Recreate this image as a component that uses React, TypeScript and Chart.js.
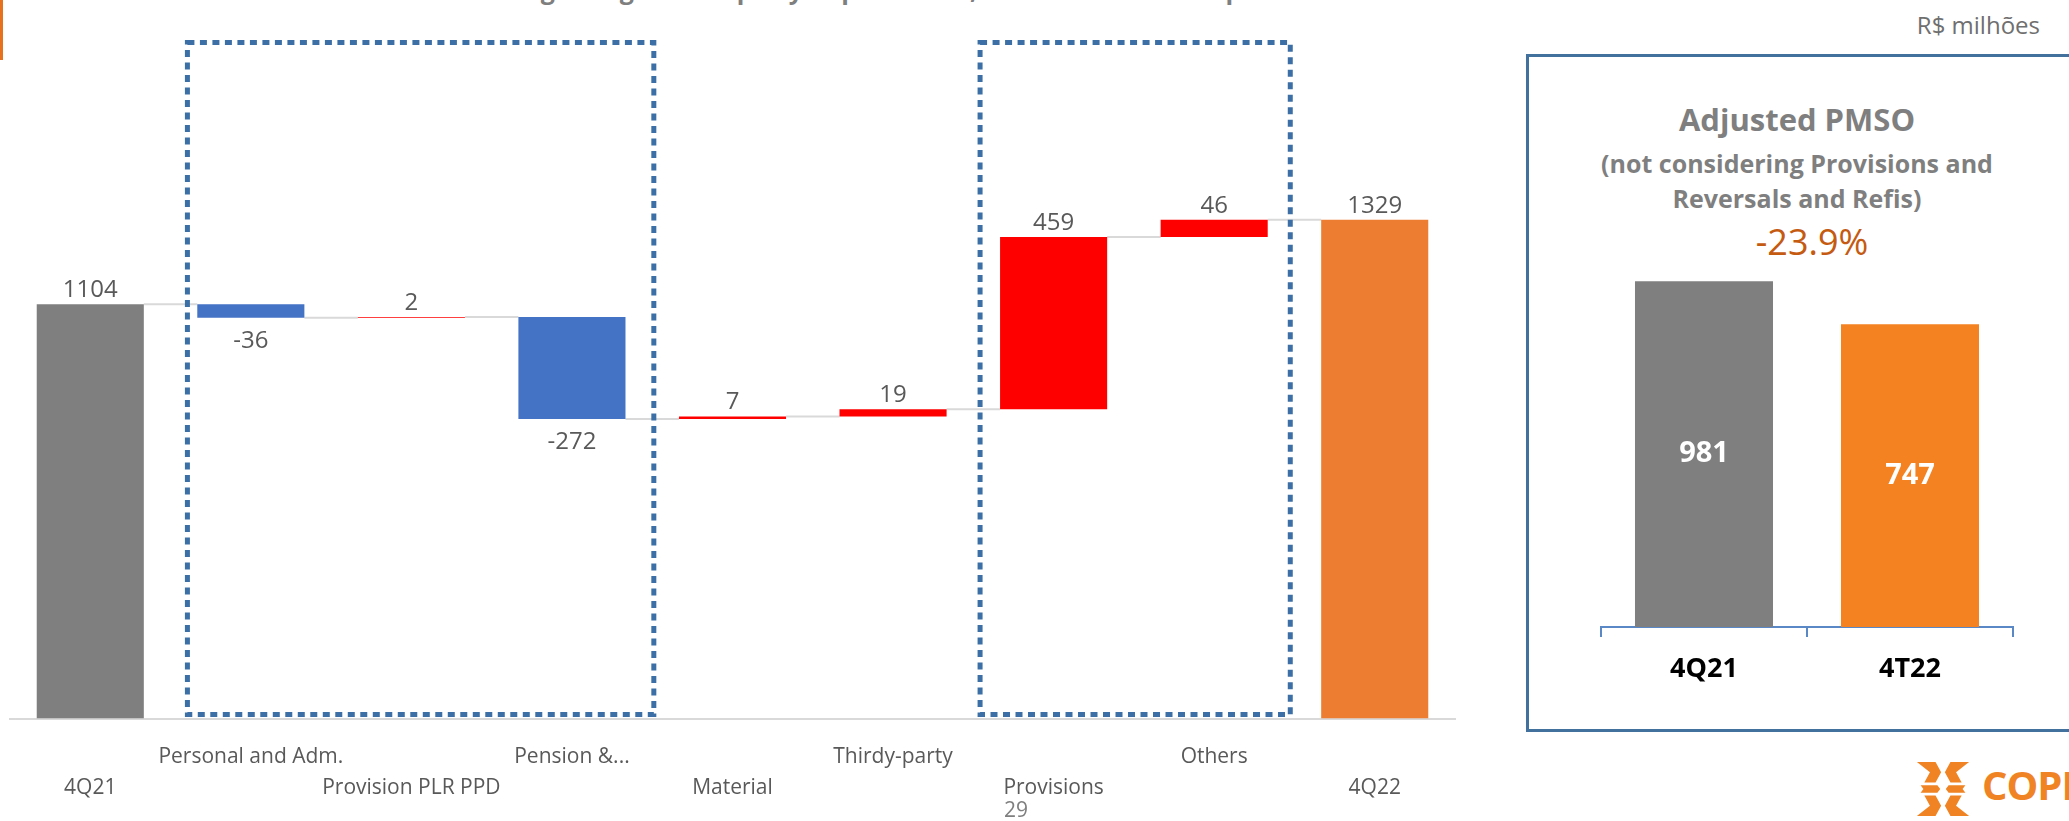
import React, { useEffect, useRef } from "react";
import { Chart, registerables } from "chart.js";

Chart.register(...registerables);

// ---------- data ----------
const categories = [
  "4Q21",
  "Personal and Adm.",
  "Provision PLR PPD",
  "Pension &...",
  "Material",
  "Thirdy-party",
  "Provisions",
  "Others",
  "4Q22",
];
const changes = [1104, -36, 2, -272, 7, 19, 459, 46, 1329];
const isTotal = [true, false, false, false, false, false, false, false, true];
const mainMax = 1800;

const panelCategories = ["4Q21", "4T22"];
const panelValues = [981, 747];
const panelChange = "-23.9%";
const panelMin = -900;
const panelMax = 1100;

const FONT = "'Open Sans', 'DejaVu Sans', sans-serif";

function waterfallRanges(): number[][] {
  let run = 0;
  return changes.map((v, i) => {
    if (isTotal[i]) {
      run = v;
      return [0, v];
    }
    const start = run;
    run += v;
    return [start, run];
  });
}

export default function App() {
  const mainRef = useRef<HTMLCanvasElement | null>(null);
  const panelRef = useRef<HTMLCanvasElement | null>(null);

  useEffect(() => {
    const ranges = waterfallRanges();
    const colors = changes.map((v, i) =>
      isTotal[i] ? (i === 0 ? "#7f7f7f" : "#ed7d31") : v < 0 ? "#4472c4" : "#ff0000"
    );
    const tickLabels = categories.map((c, i) => (i % 2 === 0 ? ["", c] : [c]));

    const connectors = {
      id: "connectors",
      beforeDatasetsDraw(chart: any) {
        const meta = chart.getDatasetMeta(0);
        const y = chart.scales.y;
        const ctx = chart.ctx;
        ctx.save();
        ctx.strokeStyle = "#d9d9d9";
        ctx.lineWidth = 2;
        for (let i = 0; i < meta.data.length - 1; i++) {
          const a = meta.data[i];
          const b = meta.data[i + 1];
          const py = y.getPixelForValue(ranges[i][1]);
          ctx.beginPath();
          ctx.moveTo(a.x + a.width / 2, py);
          ctx.lineTo(b.x - b.width / 2, py);
          ctx.stroke();
        }
        ctx.restore();
      },
    };

    const valueLabels = {
      id: "valueLabels",
      afterDatasetsDraw(chart: any) {
        const meta = chart.getDatasetMeta(0);
        const ctx = chart.ctx;
        ctx.save();
        ctx.font = `24px ${FONT}`;
        ctx.fillStyle = "#595959";
        ctx.textAlign = "center";
        ctx.textBaseline = "alphabetic";
        meta.data.forEach((bar: any, i: number) => {
          const top = Math.min(bar.y, bar.base);
          const bottom = Math.max(bar.y, bar.base);
          const v = changes[i];
          if (v >= 0) ctx.fillText(String(v), bar.x, top - 7);
          else ctx.fillText(String(v), bar.x, bottom + 30);
        });
        ctx.restore();
      },
    };

    const groups = [
      { from: 1, to: 3, l: 0.395, r: 0.51 },
      { from: 6, to: 7, l: 0.458, r: 0.474 },
    ];
    const dottedBoxes = {
      id: "dottedBoxes",
      afterDatasetsDraw(chart: any) {
        const xs = chart.scales.x;
        const area = chart.chartArea;
        const step = xs.getPixelForValue(1) - xs.getPixelForValue(0);
        const ctx = chart.ctx;
        ctx.save();
        ctx.strokeStyle = "#3c6fa5";
        ctx.lineWidth = 5;
        ctx.setLineDash([7, 5.5]);
        groups.forEach((g) => {
          const left = xs.getPixelForValue(g.from) - g.l * step;
          const right = xs.getPixelForValue(g.to) + g.r * step;
          const top = area.top - 0.5;
          const bottom = area.bottom - 4;
          ctx.strokeRect(left, top, right - left, bottom - top);
        });
        ctx.restore();
      },
    };

    const main = new Chart(mainRef.current as HTMLCanvasElement, {
      type: "bar",
      data: {
        labels: tickLabels as any,
        datasets: [
          {
            data: ranges as any,
            backgroundColor: colors,
            borderWidth: 0,
            barPercentage: 0.667,
            categoryPercentage: 1,
          },
        ],
      },
      options: {
        animation: false,
        responsive: false,
        maintainAspectRatio: false,
        layout: { padding: { left: 10, right: 25, top: 43, bottom: 3.3 } },
        plugins: {
          legend: { display: false },
          tooltip: { enabled: false },
          title: { display: false },
        },
        scales: {
          x: {
            grid: { display: false, drawTicks: false },
            border: { display: true, color: "#d9d9d9", width: 2 },
            ticks: {
              autoSkip: false,
              maxRotation: 0,
              minRotation: 0,
              color: "#595959",
              padding: 23,
              font: { family: FONT, size: 21, lineHeight: 1.48 },
            },
          },
          y: { display: false, min: 0, max: mainMax },
        },
      },
      plugins: [connectors, valueLabels, dottedBoxes],
    });

    const panelLabels = {
      id: "panelLabels",
      afterDatasetsDraw(chart: any) {
        const meta = chart.getDatasetMeta(0);
        const ctx = chart.ctx;
        ctx.save();
        ctx.font = `bold 29px ${FONT}`;
        ctx.fillStyle = "#ffffff";
        ctx.textAlign = "center";
        ctx.textBaseline = "middle";
        meta.data.forEach((bar: any, i: number) => {
          ctx.fillText(String(panelValues[i]), bar.x, (bar.y + bar.base) / 2);
        });
        ctx.restore();
      },
    };

    const panel = new Chart(panelRef.current as HTMLCanvasElement, {
      type: "bar",
      data: {
        labels: panelCategories,
        datasets: [
          {
            data: panelValues,
            base: panelMin,
            backgroundColor: ["#7f7f7f", "#f58220"],
            borderWidth: 0,
            barPercentage: 0.67,
            categoryPercentage: 1,
          } as any,
        ],
      },
      options: {
        animation: false,
        responsive: false,
        maintainAspectRatio: false,
        layout: { padding: { left: 61, right: 27, top: 19.4, bottom: 9 } },
        plugins: {
          legend: { display: false },
          tooltip: { enabled: false },
          title: { display: false },
        },
        scales: {
          x: {
            grid: {
              display: true,
              drawOnChartArea: false,
              drawTicks: true,
              tickLength: 10,
              color: "#5a87c5",
              lineWidth: 2,
              offset: true,
            },
            border: { display: true, color: "#5a87c5", width: 2 },
            ticks: {
              color: "#000000",
              padding: 15.8,
              font: { family: FONT, size: 27, weight: "bold", lineHeight: 1.2 },
            },
          },
          y: { display: false, min: panelMin, max: panelMax },
        },
      },
      plugins: [panelLabels],
    });

    return () => {
      main.destroy();
      panel.destroy();
    };
  }, []);

  const textBase: React.CSSProperties = {
    position: "absolute",
    fontFamily: FONT,
    lineHeight: 1,
    whiteSpace: "nowrap",
    margin: 0,
  };

  return (
    <div
      style={{
        position: "fixed",
        left: 0,
        top: 0,
        width: 2069,
        height: 821,
        overflow: "hidden",
        background: "#ffffff",
      }}
    >
      {/* orange accent */}
      <div style={{ position: "absolute", left: 0, top: 0, width: 3, height: 60, background: "#e8711e" }} />
      {/* clipped title */}
      <div
        style={{
          ...textBase,
          left: 191,
          top: -23,
          fontSize: 25,
          fontWeight: "bold",
          color: "#7f7f7f",
        }}
      >
        PMSO variation – main changes: higher adequacy of provisions, reversals and Refis points and effects of the estimated assets
      </div>
      {/* unit */}
      <div style={{ ...textBase, right: 29, top: 12.8, fontSize: 24, color: "#6f6f6f" }}>R$ milhões</div>

      <canvas
        ref={mainRef}
        width={1480}
        height={830}
        style={{ position: "absolute", left: 0, top: 0, width: 1480, height: 830 }}
      />

      {/* page number */}
      <div style={{ ...textBase, left: 1004, top: 799.3, fontSize: 21, color: "#7f7f7f" }}>29</div>

      {/* right panel frame */}
      <div
        style={{
          position: "absolute",
          left: 1526,
          top: 54,
          width: 620,
          height: 678,
          boxSizing: "border-box",
          border: "3px solid #41719c",
        }}
      />
      <div
        style={{
          ...textBase,
          left: 1497,
          width: 600,
          textAlign: "center",
          top: 103.5,
          fontSize: 31,
          fontWeight: "bold",
          color: "#7f7f7f",
        }}
      >
        Adjusted PMSO
      </div>
      <div
        style={{
          ...textBase,
          left: 1497,
          width: 600,
          textAlign: "center",
          top: 150.6,
          fontSize: 25,
          fontWeight: "bold",
          color: "#7f7f7f",
        }}
      >
        (not considering Provisions and
      </div>
      <div
        style={{
          ...textBase,
          left: 1497,
          width: 600,
          textAlign: "center",
          top: 185.6,
          fontSize: 25,
          fontWeight: "bold",
          color: "#7f7f7f",
        }}
      >
        Reversals and Refis)
      </div>
      <div
        style={{
          ...textBase,
          left: 1512,
          width: 600,
          textAlign: "center",
          top: 223.7,
          fontSize: 36,
          color: "#c55a11",
        }}
      >
        {panelChange}
      </div>

      <canvas
        ref={panelRef}
        width={500}
        height={470}
        style={{ position: "absolute", left: 1540, top: 240, width: 500, height: 470 }}
      />

      {/* logo */}
      <svg
        width={56}
        height={62}
        viewBox="0 0 60 62"
        style={{ position: "absolute", left: 1915, top: 758 }}
      >
        <g fill="#f08424">
          <polygon points="2,2 22,2 28,13 22,24 10,24 16,13" />
          <polygon points="58,2 38,2 32,13 38,24 50,24 44,13" />
          <polygon points="2,60 22,60 28,49 22,38 10,38 16,49" />
          <polygon points="58,60 38,60 32,49 38,38 50,38 44,49" />
          <polygon points="6,27 24,27 27,31 24,35 6,35 9,31" />
          <polygon points="54,27 36,27 33,31 36,35 54,35 51,31" />
        </g>
      </svg>
      <div
        style={{
          ...textBase,
          left: 1982,
          top: 765,
          fontSize: 40,
          fontWeight: "bold",
          letterSpacing: -1,
          color: "#f08424",
        }}
      >
        COPEL
      </div>
    </div>
  );
}
